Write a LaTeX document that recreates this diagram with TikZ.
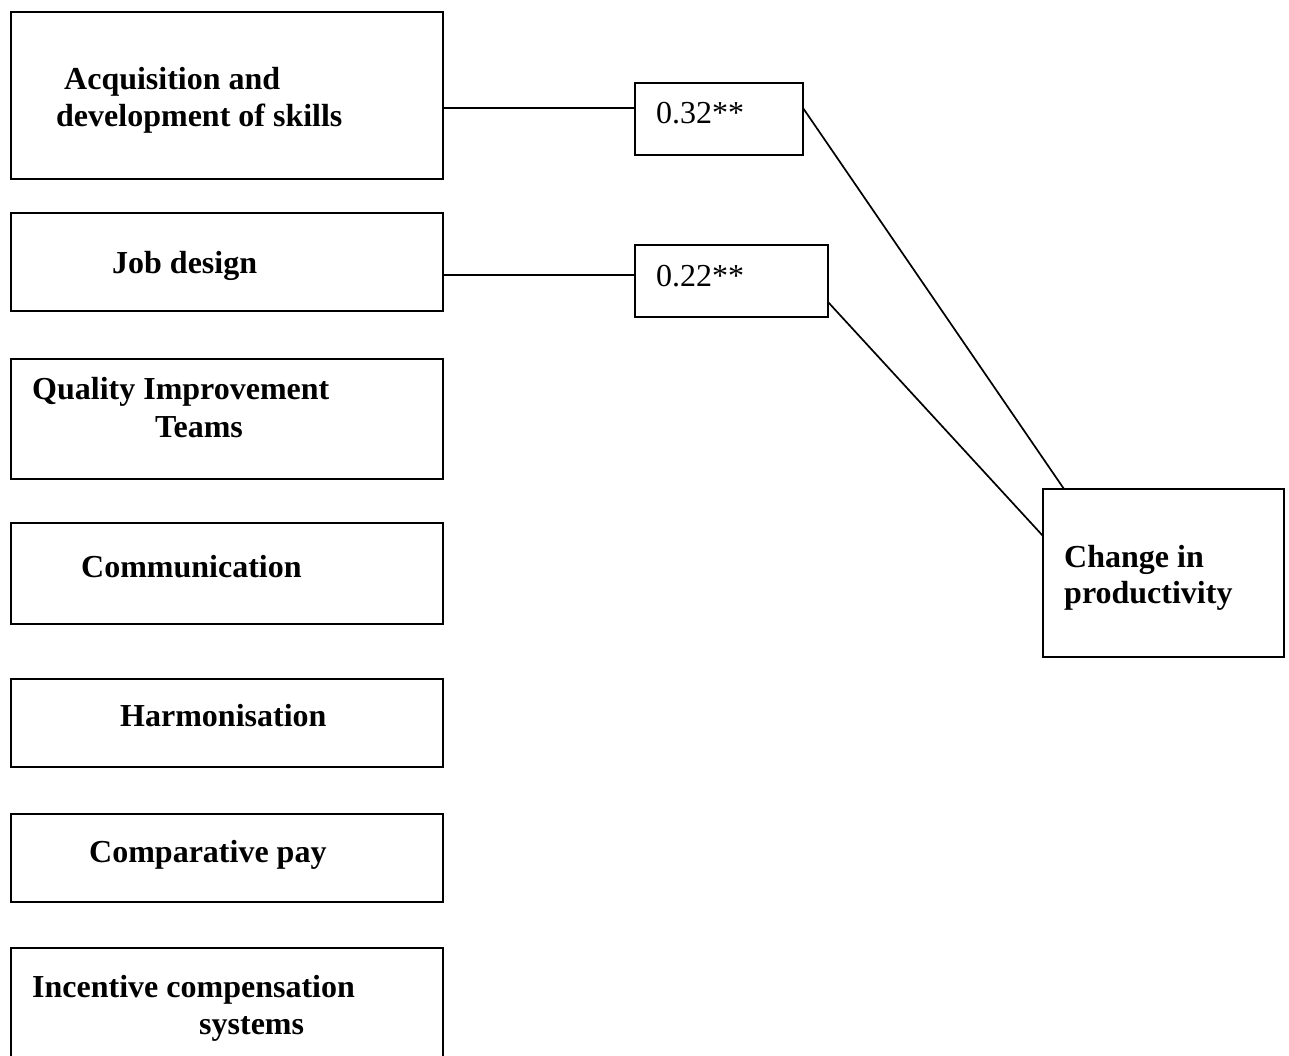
\documentclass[tikz,border=0pt]{standalone}
\usepackage{fontspec}
\setmainfont{Liberation Serif}
\begin{document}
\begin{tikzpicture}[x=1pt,y=-1pt,
  frame/.style={draw, line width=1.9pt, inner sep=0pt, outer sep=0pt},
  lbl/.style={anchor=base west, inner sep=0pt, font=\fontsize{32}{37}\selectfont\bfseries},
  coef/.style={anchor=base west, inner sep=0pt, font=\fontsize{32}{37}\selectfont},
  link/.style={line width=1.7pt}]
\useasboundingbox (0,0) rectangle (1289,1055);
\clip (0,0) rectangle (1289,1055);
\fill[white] (0,0) rectangle (1289,1055);

% predictor boxes
\node[frame, minimum width=432pt, minimum height=167pt] (b1) at (227,95.5) {};
\node[frame, minimum width=432pt, minimum height=98pt]  (b2) at (227,262) {};
\node[frame, minimum width=432pt, minimum height=120pt] (b3) at (227,419) {};
\node[frame, minimum width=432pt, minimum height=101pt] (b4) at (227,573.5) {};
\node[frame, minimum width=432pt, minimum height=88pt]  (b5) at (227,723) {};
\node[frame, minimum width=432pt, minimum height=88pt]  (b6) at (227,858) {};
\node[frame, minimum width=432pt, minimum height=130pt] (b7) at (227,1013) {};

\node[lbl] (t1a) at (64,89)  {Acquisition and};
\node[lbl] (t1b) at (56,126) {development of skills};
\node[lbl] (t2)  at (112,273) {Job design};
\node[lbl] (t3a) at (32,399) {Quality Improvement};
\node[lbl] (t3b) at (155,437) {Teams};
\node[lbl] (t4)  at (81,577) {Communication};
\node[lbl] (t5)  at (120,726) {Harmonisation};
\node[lbl] (t6)  at (89,862) {Comparative pay};
\node[lbl] (t7a) at (32,997) {Incentive compensation};
\node[lbl] (t7b) at (199,1034) {systems};

% coefficient boxes
\node[frame, minimum width=168pt, minimum height=72pt] (c1) at (719,119) {};
\node[frame, minimum width=193pt, minimum height=72pt] (c2) at (731.5,281) {};
\node[coef] (k1) at (656,123) {0.32**};
\node[coef] (k2) at (656,286) {0.22**};

% outcome box
\node[frame, minimum width=241pt, minimum height=168pt] (p) at (1163.5,573) {};
\node[lbl] (tpa) at (1064,567) {Change in};
\node[lbl] (tpb) at (1064,603) {productivity};

% paths
\draw[link] ([yshift=11pt]c1.west) -- ([yshift=11pt]c1.west -| b1.east);
\draw[link] ([yshift=6pt]c2.west) -- ([yshift=6pt]c2.west -| b2.east);
\draw[link] ([yshift=11pt]c1.east) -- ([xshift=-99.5pt]p.north);
\draw[link] ([yshift=-21pt]c2.east) -- ([yshift=37pt]p.west);
\end{tikzpicture}
\end{document}
